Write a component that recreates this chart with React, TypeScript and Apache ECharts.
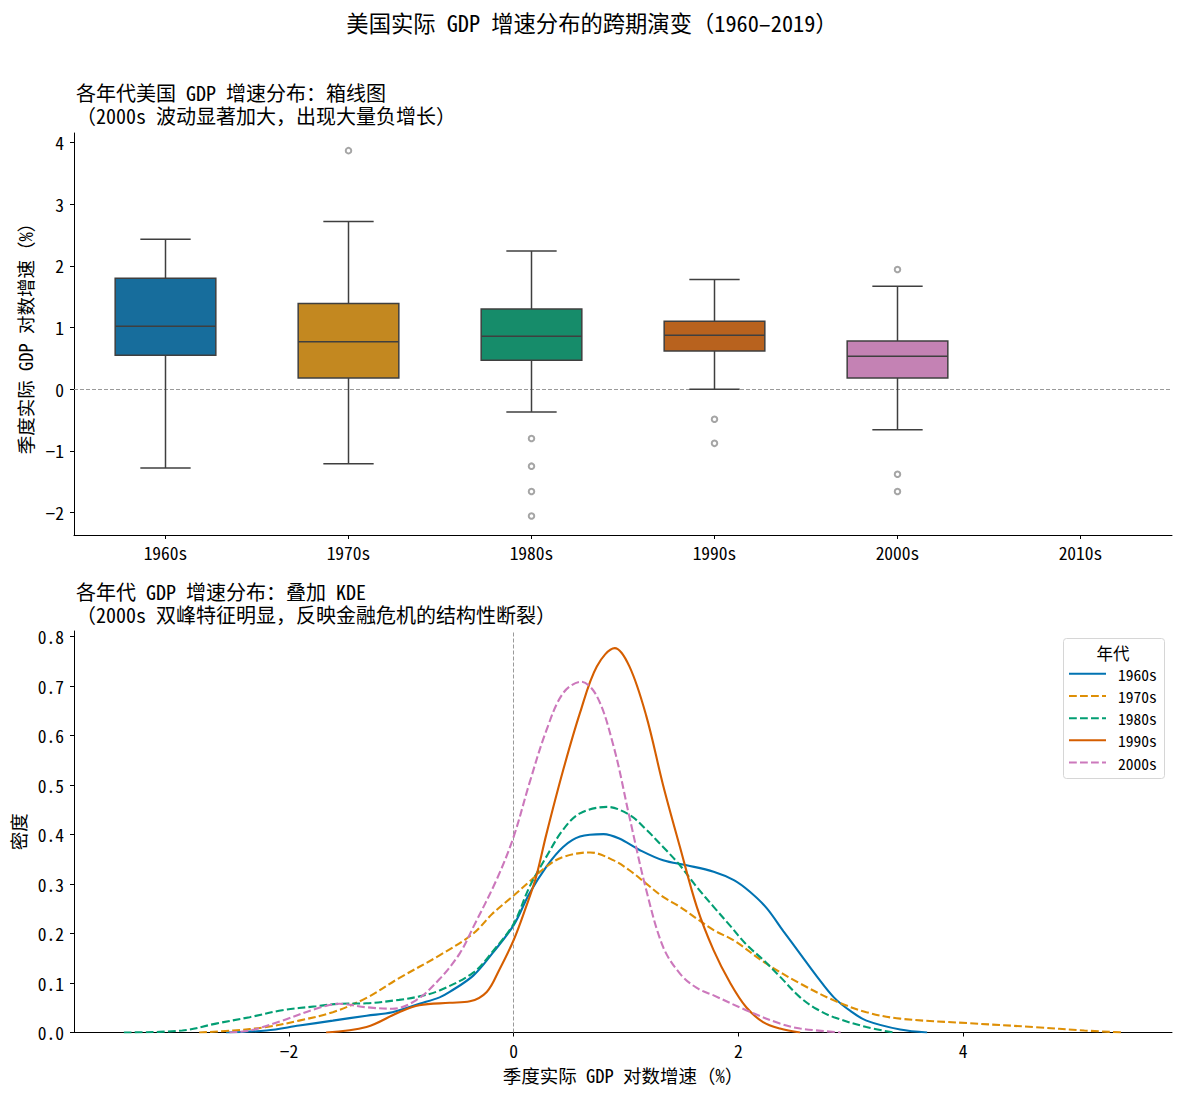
import React, { useEffect, useRef } from 'react';
import * as echarts from 'echarts';

const FONT = "'Noto Sans Mono CJK SC', 'Noto Sans CJK SC', 'Noto Sans', sans-serif";

// ---------- Box plot data ----------
const decades = ['1960s', '1970s', '1980s', '1990s', '2000s', '2010s'];
const whiskerLow = [-1.28, -1.21, -0.37, 0.0, -0.66];
const quartile1 = [0.55, 0.18, 0.47, 0.62, 0.18];
const medians = [1.02, 0.77, 0.86, 0.875, 0.535];
const quartile3 = [1.8, 1.39, 1.3, 1.1, 0.78];
const whiskerHigh = [2.43, 2.72, 2.24, 1.78, 1.67];
const outliers: [string, number][] = [
  ['1970s', 3.87],
  ['1980s', -0.8],
  ['1980s', -1.25],
  ['1980s', -1.66],
  ['1980s', -2.06],
  ['1990s', -0.49],
  ['1990s', -0.88],
  ['2000s', 1.94],
  ['2000s', -1.38],
  ['2000s', -1.66],
];
const boxColors = ['#176d9c', '#c38820', '#168c6a', '#b8621e', '#c482b4'];
const yTicksTop = [-2, -1, 0, 1, 2, 3, 4];

// ---------- KDE data (x, density) ----------
const kde1960s: [number, number][] = [
  [-2.56, 0], [-2.2, 0.004], [-1.91, 0.014], [-1.61, 0.024], [-1.31, 0.034], [-1.08, 0.041],
  [-0.84, 0.058], [-0.66, 0.071], [-0.57, 0.082], [-0.36, 0.115], [-0.19, 0.16], [0, 0.217],
  [0.14, 0.281], [0.29, 0.335], [0.44, 0.375], [0.59, 0.396], [0.8, 0.401], [0.94, 0.392],
  [1.12, 0.369], [1.33, 0.348], [1.54, 0.338], [1.78, 0.325], [1.96, 0.308], [2.1, 0.285],
  [2.25, 0.252], [2.4, 0.205], [2.55, 0.159], [2.7, 0.113], [2.85, 0.071], [3.0, 0.043],
  [3.14, 0.024], [3.44, 0.006], [3.68, 0],
];
const kde1970s: [number, number][] = [
  [-2.8, 0], [-2.5, 0.004], [-2.2, 0.011], [-1.91, 0.024], [-1.61, 0.041], [-1.31, 0.07],
  [-1.02, 0.11], [-0.66, 0.156], [-0.36, 0.2], [-0.19, 0.24], [0, 0.277], [0.14, 0.305],
  [0.29, 0.335], [0.44, 0.355], [0.68, 0.364], [0.89, 0.348], [1.03, 0.328], [1.18, 0.301],
  [1.33, 0.274], [1.48, 0.254], [1.63, 0.23], [1.78, 0.207], [1.96, 0.186], [2.25, 0.139],
  [2.55, 0.099], [2.85, 0.065], [3.14, 0.041], [3.44, 0.028], [4.04, 0.019], [4.63, 0.011],
  [5.08, 0.004], [5.42, 0],
];
const kde1980s: [number, number][] = [
  [-3.47, 0], [-2.95, 0.004], [-2.65, 0.018], [-2.35, 0.031], [-2.06, 0.045], [-1.76, 0.053],
  [-1.55, 0.058], [-1.31, 0.059], [-1.02, 0.066], [-0.84, 0.073], [-0.66, 0.085], [-0.36, 0.121],
  [-0.19, 0.163], [0, 0.22], [0.14, 0.294], [0.29, 0.355], [0.44, 0.41], [0.59, 0.443],
  [0.83, 0.456], [1.03, 0.44], [1.18, 0.41], [1.33, 0.375], [1.48, 0.338], [1.63, 0.294],
  [1.78, 0.254], [1.93, 0.215], [2.07, 0.178], [2.22, 0.147], [2.37, 0.113], [2.55, 0.071],
  [2.7, 0.047], [2.85, 0.031], [3.14, 0.011], [3.38, 0],
];
const kde1990s: [number, number][] = [
  [-1.67, 0], [-1.31, 0.011], [-1.02, 0.041], [-0.84, 0.055], [-0.57, 0.06], [-0.39, 0.063],
  [-0.24, 0.082], [-0.13, 0.126], [0, 0.187], [0.11, 0.254], [0.2, 0.315], [0.29, 0.4],
  [0.44, 0.53], [0.59, 0.646], [0.74, 0.74], [0.9, 0.777], [1.03, 0.74], [1.18, 0.64],
  [1.33, 0.5], [1.48, 0.375], [1.63, 0.254], [1.78, 0.166], [1.93, 0.099], [2.07, 0.051],
  [2.22, 0.021], [2.37, 0.008], [2.55, 0],
];
const kde2000s: [number, number][] = [
  [-2.53, 0], [-2.35, 0.004], [-2.06, 0.024], [-1.76, 0.048], [-1.55, 0.058], [-1.31, 0.051],
  [-1.08, 0.048], [-0.87, 0.065], [-0.66, 0.108], [-0.48, 0.16], [-0.36, 0.213], [-0.15, 0.31],
  [0, 0.396], [0.14, 0.504], [0.29, 0.61], [0.44, 0.686], [0.6, 0.709], [0.74, 0.68],
  [0.89, 0.578], [1.03, 0.436], [1.18, 0.288], [1.33, 0.173], [1.48, 0.119], [1.63, 0.09],
  [1.78, 0.075], [2.07, 0.045], [2.37, 0.018], [2.55, 0.008], [2.91, 0],
];
const kdeNames = ['1960s', '1970s', '1980s', '1990s', '2000s'];
const kdeSeriesData = [kde1960s, kde1970s, kde1980s, kde1990s, kde2000s];
const kdeColors = ['#0173b2', '#de8f05', '#029e73', '#d55e00', '#cc78bc'];
const kdeDashed = [false, true, true, false, true];
const xTicksKde = [-2, 0, 2, 4];
const yTicksKde = [0, 0.1, 0.2, 0.3, 0.4, 0.5, 0.6, 0.7, 0.8];

const minusFmt = (v: number) => (v < 0 ? '\u2212' + Math.abs(v) : String(v));

const TICK_FS = 17.5;
const NAME_FS = 18.5;
const SUB_FS = 20;
const axisLineStyle = { show: true, onZero: false, lineStyle: { color: '#000', width: 1 } };

export default function App() {
  const ref = useRef<HTMLDivElement>(null);

  useEffect(() => {
    document.body.style.margin = '0';
    if (!ref.current) return;
    const chart = echarts.init(ref.current, null, { renderer: 'svg' });

    const boxData = whiskerLow.map((_, i) => [i, whiskerLow[i], quartile1[i], medians[i], quartile3[i], whiskerHigh[i]]);

    const option: any = {
      animation: false,
      backgroundColor: '#fff',
      textStyle: { fontFamily: FONT },
      grid: [
        { left: 74, top: 133, width: 1098, height: 402 },
        { left: 74, top: 631, width: 1098, height: 401.5 },
      ],
      xAxis: [
        {
          gridIndex: 0,
          type: 'category',
          data: decades,
          boundaryGap: true,
          axisLine: axisLineStyle,
          splitLine: { show: false },
          axisTick: { show: true, length: 4, alignWithLabel: true, lineStyle: { color: '#000' } },
          axisLabel: { color: '#000', fontSize: TICK_FS, margin: 9, fontFamily: FONT },
        },
        {
          gridIndex: 1,
          type: 'value',
          min: -3.914,
          max: 5.86,
          axisLine: axisLineStyle,
          splitLine: { show: false },
          axisTick: { show: true, length: 4, lineStyle: { color: '#000' }, customValues: xTicksKde },
          axisLabel: { color: '#000', fontSize: TICK_FS, margin: 9, fontFamily: FONT, customValues: xTicksKde, formatter: minusFmt },
          name: '季度实际 GDP 对数增速（%）',
          nameLocation: 'middle',
          nameGap: 33,
          nameTextStyle: { color: '#000', fontSize: NAME_FS, fontFamily: FONT },
        },
      ],
      yAxis: [
        {
          gridIndex: 0,
          type: 'value',
          min: -2.367,
          max: 4.156,
          axisLine: axisLineStyle,
          splitLine: { show: false },
          axisTick: { show: true, length: 4, lineStyle: { color: '#000' }, customValues: yTicksTop },
          axisLabel: { color: '#000', fontSize: TICK_FS, margin: 10, fontFamily: FONT, customValues: yTicksTop, formatter: minusFmt },
          name: '季度实际 GDP 对数增速（%）',
          nameLocation: 'middle',
          nameGap: 32,
          nameTextStyle: { color: '#000', fontSize: NAME_FS, fontFamily: FONT },
        },
        {
          gridIndex: 1,
          type: 'value',
          min: 0,
          max: 0.8116,
          axisLine: axisLineStyle,
          splitLine: { show: false },
          axisTick: { show: true, length: 4, lineStyle: { color: '#000' }, customValues: yTicksKde },
          axisLabel: {
            color: '#000', fontSize: TICK_FS, margin: 10, fontFamily: FONT, customValues: yTicksKde,
            formatter: (v: number) => v.toFixed(1),
          },
          name: '密度',
          nameLocation: 'middle',
          nameGap: 41,
          nameTextStyle: { color: '#000', fontSize: NAME_FS, fontFamily: FONT },
        },
      ],
      legend: {
        data: kdeNames,
        orient: 'vertical',
        left: 1063,
        top: 661,
        itemWidth: 37,
        itemHeight: 14,
        itemGap: 6.7,
        itemStyle: { opacity: 0 },
        textStyle: { color: '#000', fontSize: 15.5, lineHeight: 14, fontFamily: FONT, padding: [0, 0, 0, 7] },
      },
      graphic: [
        {
          type: 'text',
          x: 592,
          y: 22,
          style: { text: '美国实际 GDP 增速分布的跨期演变（1960–2019）', fontSize: 22.3, fontFamily: FONT, fill: '#000', align: 'center', verticalAlign: 'middle' },
        },
        {
          type: 'text',
          x: 76,
          y: 103.5,
          style: {
            text: '各年代美国 GDP 增速分布：箱线图\n（2000s 波动显著加大，出现大量负增长）',
            fontSize: SUB_FS, lineHeight: 23, fontFamily: FONT, fill: '#000', align: 'left', verticalAlign: 'middle',
          },
        },
        {
          type: 'text',
          x: 76,
          y: 602.5,
          style: {
            text: '各年代 GDP 增速分布：叠加 KDE\n（2000s 双峰特征明显，反映金融危机的结构性断裂）',
            fontSize: SUB_FS, lineHeight: 23, fontFamily: FONT, fill: '#000', align: 'left', verticalAlign: 'middle',
          },
        },
        {
          type: 'rect',
          z: -1,
          shape: { x: 1063.5, y: 638.5, width: 101, height: 140, r: 3 },
          style: { fill: 'rgba(255,255,255,0.8)', stroke: '#d6d6d6', lineWidth: 1 },
        },
        {
          type: 'text',
          x: 1113,
          y: 653,
          style: { text: '年代', fontSize: 16.5, fontFamily: FONT, fill: '#000', align: 'center', verticalAlign: 'middle' },
        },
      ],
      series: [
        {
          type: 'custom',
          name: 'box',
          xAxisIndex: 0,
          yAxisIndex: 0,
          data: boxData,
          encode: { x: 0, y: [1, 2, 3, 4, 5] },
          z: 3,
          renderItem: (params: any, api: any) => {
            const c = api.value(0);
            const lo = api.coord([c, api.value(1)]);
            const q1 = api.coord([c, api.value(2)]);
            const md = api.coord([c, api.value(3)]);
            const q3 = api.coord([c, api.value(4)]);
            const hi = api.coord([c, api.value(5)]);
            const band = api.size([1, 0])[0];
            const bw = band * 0.55;
            const cw = bw / 2;
            const x = lo[0];
            const st = { stroke: '#3f3f3f', lineWidth: 1.5 };
            return {
              type: 'group',
              children: [
                { type: 'line', shape: { x1: x, y1: q1[1], x2: x, y2: lo[1] }, style: st },
                { type: 'line', shape: { x1: x - cw / 2, y1: lo[1], x2: x + cw / 2, y2: lo[1] }, style: st },
                { type: 'line', shape: { x1: x, y1: q3[1], x2: x, y2: hi[1] }, style: st },
                { type: 'line', shape: { x1: x - cw / 2, y1: hi[1], x2: x + cw / 2, y2: hi[1] }, style: st },
                {
                  type: 'rect',
                  shape: { x: x - bw / 2, y: q3[1], width: bw, height: q1[1] - q3[1] },
                  style: { fill: boxColors[params.dataIndex], stroke: '#3f3f3f', lineWidth: 1.5 },
                },
                { type: 'line', shape: { x1: x - bw / 2, y1: md[1], x2: x + bw / 2, y2: md[1] }, style: st },
              ],
            };
          },
        },
        {
          type: 'scatter',
          name: 'outliers',
          xAxisIndex: 0,
          yAxisIndex: 0,
          data: outliers,
          symbol: 'emptyCircle',
          symbolSize: 5.5,
          itemStyle: { color: '#8e8e8e', borderColor: '#8e8e8e', borderWidth: 1.2 },
          z: 4,
          markLine: {
            silent: true,
            symbol: 'none',
            label: { show: false },
            lineStyle: { color: '#9a9a9a', type: [4, 2], width: 1 },
            data: [{ yAxis: 0 }],
            z: 1,
          },
        },
        ...kdeNames.map((name, i) => ({
          type: 'line',
          name,
          xAxisIndex: 1,
          yAxisIndex: 1,
          data: kdeSeriesData[i],
          showSymbol: false,
          symbol: 'none',
          smooth: 0.35,
          color: kdeColors[i],
          lineStyle: { color: kdeColors[i], width: 2.1, type: kdeDashed[i] ? [7.8, 3.2] : 'solid' },
          z: 3 + i,
          ...(i === 0
            ? {
                markLine: {
                  silent: true,
                  symbol: 'none',
                  label: { show: false },
                  lineStyle: { color: '#9a9a9a', type: [4, 2], width: 1 },
                  data: [{ xAxis: 0 }],
                },
              }
            : {}),
        })),
      ],
    };

    chart.setOption(option);
    return () => chart.dispose();
  }, []);

  return <div ref={ref} style={{ width: 1184, height: 1095 }} />;
}
